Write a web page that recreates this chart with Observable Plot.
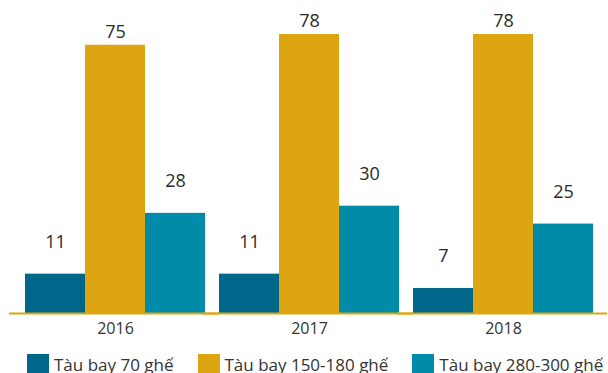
<!DOCTYPE html>
<html>
<head>
<meta charset="utf-8">
<script src="https://cdn.jsdelivr.net/npm/d3@7"></script>
<script src="https://cdn.jsdelivr.net/npm/@observablehq/plot@0.6"></script>
<style>
  body { margin: 0; background: #fff; font-family: "Open Sans", sans-serif; }
  #legend { display: flex; align-items: center; margin-top: 8px; padding-left: 27px; font-size: 17px; color: #333; white-space: nowrap; }
  .item { display: flex; align-items: center; margin-right: 24px; }
  .sw { width: 22px; height: 22px; margin-right: 5px; flex: none; }
</style>
</head>
<body>
<div id="chart"></div>
<div id="legend"></div>
<script>
const years = ["2016", "2017", "2018"];
const series = ["Tàu bay 70 ghế", "Tàu bay 150-180 ghế", "Tàu bay 280-300 ghế"];
const values70 = [11, 11, 7];
const values150 = [75, 78, 78];
const values280 = [28, 30, 25];
const colors = ["#00668A", "#DCA511", "#008BA8"];

const seriesValues = [values70, values150, values280];
const data = [];
years.forEach((y, i) => {
  series.forEach((s, j) => data.push({year: y, series: s, value: seriesValues[j][i]}));
});

const chart = Plot.plot({
  width: 608,
  height: 345,
  marginTop: 34,
  marginBottom: 32,
  marginLeft: 18,
  marginRight: 7,
  style: {fontFamily: "'Open Sans', sans-serif", fontSize: "16px", color: "#333", background: "#fff"},
  fx: {domain: years, axis: "bottom", tickSize: 0, tickPadding: 9, label: null, paddingInner: 0.06, paddingOuter: 0.03},
  x: {domain: series, axis: null, padding: 0},
  y: {domain: [0, 78], axis: null},
  color: {domain: series, range: colors},
  marks: [
    Plot.barY(data, {fx: "year", x: "series", y: "value", fill: "series"}),
    Plot.ruleY([0], {stroke: "#DCA511", strokeWidth: 2, insetLeft: -15, insetRight: -13}),
    Plot.text(data.filter(d => d.series !== series[1]), {fx: "year", x: "series", y: "value", text: d => String(d.value), dy: -32, fontSize: 18, fill: "#2b2b2b"}),
    Plot.text(data.filter(d => d.series === series[1]), {fx: "year", x: "series", y: "value", text: d => String(d.value), dy: -13, fontSize: 18, fill: "#2b2b2b"})
  ]
});
document.getElementById("chart").appendChild(chart);

const legend = document.getElementById("legend");
series.forEach((s, i) => {
  const item = document.createElement("div");
  item.className = "item";
  const sw = document.createElement("div");
  sw.className = "sw";
  sw.style.background = colors[i];
  const t = document.createElement("span");
  t.textContent = s;
  item.appendChild(sw);
  item.appendChild(t);
  legend.appendChild(item);
});
</script>
</body>
</html>
